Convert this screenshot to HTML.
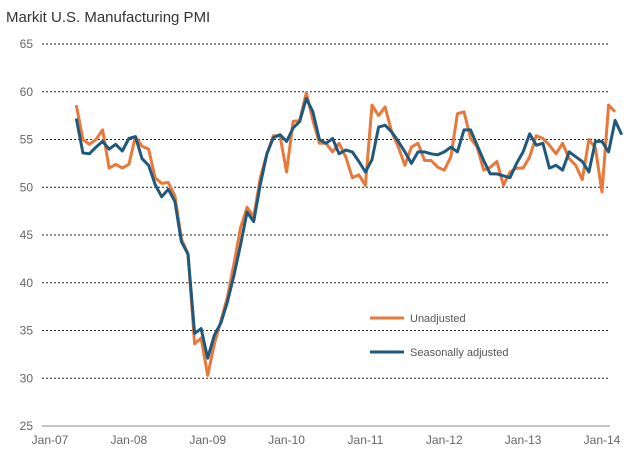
<!DOCTYPE html>
<html><head><meta charset="utf-8"><style>
body{margin:0;background:#fff;}
svg{display:block;font-family:"Liberation Sans",sans-serif;}
</style></head><body>
<svg id="chart" width="640" height="460">
<text x="6" y="22" font-size="15" fill="#333">Markit U.S. Manufacturing  PMI</text>
<g id="grid"></g><g id="axes"></g><g id="series"></g>
<g>
<line x1="370" y1="318" x2="404" y2="318" stroke="#e8793a" stroke-width="3"/>
<text x="410" y="322" font-size="11" fill="#555">Unadjusted</text>
<line x1="370" y1="352" x2="404" y2="352" stroke="#1f5a7e" stroke-width="3"/>
<text x="410" y="356" font-size="11" fill="#555">Seasonally adjusted</text>
</g>
</svg>
<script>
const yTicks=[25,30,35,40,45,50,55,60,65];
const xLabels=["Jan-07","Jan-08","Jan-09","Jan-10","Jan-11","Jan-12","Jan-13","Jan-14"];
const startMonth=4; // May 2007 (months since Jan-07)
const unadjusted=[58.6,55,54.5,55,56,52,52.4,52,52.4,55.3,54.3,54,51,50.4,50.5,49.1,44.6,43,33.6,34.2,30.3,33.6,36,38.5,42,45.8,47.9,46.9,51,53.5,55.4,55.4,51.6,56.9,57,59.9,57,54.6,
54.6,53.7,54.6,53.2,51,51.3,50.2,58.6,57.5,58.4,55.8,54.2,52.3,54.2,54.6,52.8,52.8,52.1,51.8,53.2,57.7,57.9,55.1,54.2,51.8,52.1,52.7,50.2,51.6,52,52,53.2,55.4,55.1,54.4,53.5,54.6,53,52.3,50.8,55,54.1,49.5,58.6,57.9];
const seasonal=[57.2,53.6,53.5,54.2,54.8,54,54.5,53.8,55.1,55.3,53,52.3,50.3,49,49.8,48.5,44.3,43,34.7,35.2,32.1,34.5,35.8,38,40.8,44,47.4,46.4,50.3,53.5,55.2,55.5,54.8,56.2,56.9,59.3,57.9,55,
54.6,55.1,53.5,53.9,53.7,52.7,51.6,52.9,56.3,56.5,55.8,54.8,53.7,52.5,53.7,53.7,53.5,53.4,53.7,54.2,53.7,56,56,54.4,52.8,51.4,51.4,51.2,51,52.5,53.7,55.6,54.4,54.6,52,52.3,51.8,53.7,53.2,52.7,51.6,54.8,54.8,53.7,57,55.5];
const ns="http://www.w3.org/2000/svg";
const X=m=>50+m*(602-50)/84;
const Y=v=>426-(v-25)*(426-44)/40;
const grid=document.getElementById('grid'),axes=document.getElementById('axes'),ser=document.getElementById('series');
yTicks.forEach(t=>{
 const l=document.createElementNS(ns,'line');
 l.setAttribute('x1',42);l.setAttribute('x2',610);l.setAttribute('y1',Y(t));l.setAttribute('y2',Y(t));
 l.setAttribute('stroke',t==25?'#888':'#222');l.setAttribute('stroke-dasharray',t==25?'none':'2,2');l.setAttribute('stroke-width',1);
 
 
 grid.appendChild(l);
 const tx=document.createElementNS(ns,'text');
 tx.setAttribute('x',33);tx.setAttribute('y',Y(t)+4);tx.setAttribute('text-anchor','end');tx.setAttribute('font-size',12);tx.setAttribute('fill','#666');
 tx.textContent=t;
 
 
 axes.appendChild(tx);
});
xLabels.forEach((s,i)=>{
 const tx=document.createElementNS(ns,'text');
 tx.setAttribute('x',X(i*12));tx.setAttribute('y',444);tx.setAttribute('text-anchor','middle');tx.setAttribute('font-size',12);tx.setAttribute('fill','#666');
 tx.textContent=s;
 
 
 axes.appendChild(tx);
});
function line(arr,color,name){
 const p=document.createElementNS(ns,'polyline');
 p.setAttribute('points',arr.map((v,i)=>X(startMonth+i).toFixed(1)+','+Y(v).toFixed(1)).join(' '));
 p.setAttribute('fill','none');p.setAttribute('stroke',color);p.setAttribute('stroke-width',3);p.setAttribute('stroke-linejoin','round');
 
 
 ser.appendChild(p);
}
line(unadjusted,'#e8793a','unadjusted-line');
line(seasonal,'#1f5a7e','seasonal-line');
</script>
</body></html>
